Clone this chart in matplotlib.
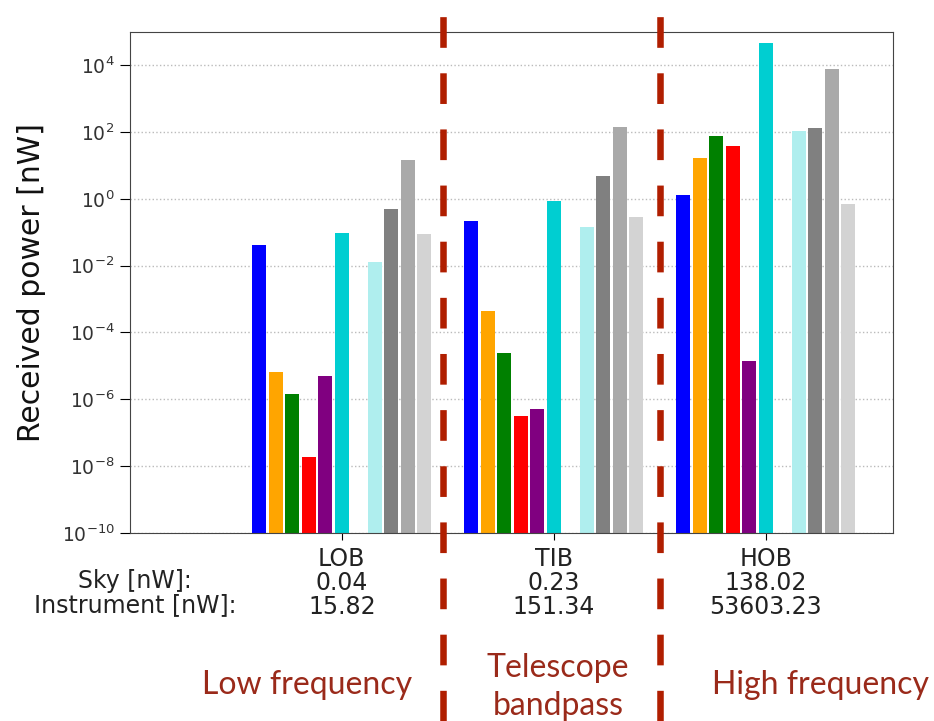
import numpy as np
import matplotlib
matplotlib.use("Agg")
import matplotlib.pyplot as plt
from matplotlib.lines import Line2D

# Data
groups = ["LOB", "TIB", "HOB"]
sky_totals = ["0.04", "0.23", "138.02"]
inst_totals = ["15.82", "151.34", "53603.23"]

# one list per bar slot (slot 7 is empty in the picture)
blue_vals = [0.042, 0.22, 1.3]
orange_vals = [6.5e-6, 4.4e-4, 16.6]
green_vals = [1.4e-6, 2.4e-5, 75.0]
red_vals = [1.9e-8, 3.2e-7, 39.0]
purple_vals = [4.8e-6, 5.2e-7, 1.4e-5]
cyan_vals = [0.093, 0.85, 45000.0]
empty_vals = [0.0, 0.0, 0.0]
pale_vals = [0.0126, 0.144, 106.0]
gray_vals = [0.49, 4.8, 131.0]
darkgray_vals = [14.5, 144.0, 7400.0]
lightgray_vals = [0.089, 0.29, 0.69]

series = [blue_vals, orange_vals, green_vals, red_vals, purple_vals, cyan_vals,
          empty_vals, pale_vals, gray_vals, darkgray_vals, lightgray_vals]
colors = ["blue", "orange", "green", "red", "purple", "darkturquoise",
          "white", "paleturquoise", "gray", "darkgray", "lightgray"]

fig = plt.figure(figsize=(9.34, 7.21), dpi=100)
ax = fig.add_axes([0.139, 0.261, 0.817, 0.695])

x = np.arange(len(groups))
pitch = 0.078
for i, (vals, c) in enumerate(zip(series, colors)):
    v = np.array(vals)
    if not v.any():
        continue
    ax.bar(x + (i - 5) * pitch, v, width=0.066, color=c, bottom=1e-10, zorder=2)

ax.set_yscale("log")
ax.set_ylim(1e-10, 1e5)
ax.set_xlim(-1.0, 2.6)
ax.set_yticks([10.0**k for k in range(-10, 5, 2)])
ax.minorticks_off()
ax.yaxis.grid(True, linestyle=":", color="#bbbbbb", linewidth=1.0, zorder=0)
ax.tick_params(axis="y", labelsize=13.5, labelcolor="#333333", length=7, pad=4)
ax.tick_params(axis="x", length=5, pad=5)
ax.set_xticks(x)
ax.set_xticklabels([f"{g}\n{s}\n{t}" for g, s, t in zip(groups, sky_totals, inst_totals)],
                   fontsize=17, linespacing=1.02, color="#222222")
ax.set_ylabel("Received power [nW]", fontsize=21.5, color="#111111")
ax.yaxis.set_label_coords(-0.11, 0.5)
for sp in ax.spines.values():
    sp.set_color("#444444")

# row labels
fig.text(0.1445, 1 - 593 / 721, "Sky [nW]:\nInstrument [nW]:", ha="center", va="center",
         fontsize=17, linespacing=1.02, color="#222222")

# dashed separators drawn across the whole figure
for xf in [443 / 934, 660 / 934]:
    fig.add_artist(Line2D([xf, xf], [0.0, 1 - 9 / 721], transform=fig.transFigure,
                          color="#b01e00", linewidth=4.7, linestyle=(0, (4.7, 3.9)),
                          zorder=5))

red_txt = "#9a2a1a"
fig.text(307 / 934, 1 - 685 / 721, "Low frequency", ha="center", va="center",
         fontsize=23, color=red_txt, family="Lato")
fig.text(558 / 934, 1 - 687 / 721, "Telescope\nbandpass", ha="center", va="center",
         fontsize=23, color=red_txt, family="Lato", linespacing=1.3)
fig.text(821 / 934, 1 - 685 / 721, "High frequency", ha="center", va="center",
         fontsize=23, color=red_txt, family="Lato")

fig.savefig("out.png", dpi=100)
